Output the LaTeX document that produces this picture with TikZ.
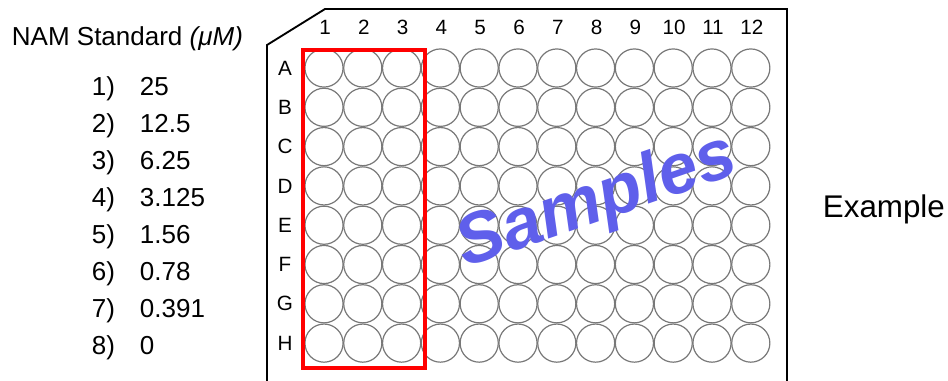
\documentclass[tikz,border=0pt]{standalone}
\usepackage{fontspec}
\setmainfont{Liberation Sans}

\tikzset{every picture/.style={line width=0.75pt}}

\begin{document}
\begin{tikzpicture}[x=0.75pt,y=0.75pt,yscale=-1,xscale=1,
  well/.style={circle,draw={rgb, 255:red, 120; green, 120; blue, 120 },line width=0.9,inner sep=0pt,minimum size=28.6pt},
  platelabel/.style={font=\fontsize{15.5}{18}\selectfont},
  listtext/.style={anchor=base west,font=\fontsize{19.5}{22}\selectfont}]
\useasboundingbox (0,0) rectangle (948,380);

%Plate outline
\draw [line width=1.4]  (267,381) -- (267,45) -- (325,9) -- (787,9) -- (787,381) ;

%Column numbers
\foreach \c in {1,...,12}
  \node [platelabel,anchor=base] (col\c) at ({325+(\c-1)*38.8},34) {\c};

%Row letters and wells
\foreach \r [count=\j] in {A,B,C,D,E,F,G,H} {
  \node [platelabel] (row\r) at (285,{68+(\j-1)*39.3}) {\r};
  \foreach \c in {1,...,12}
    \node [well] (w\r\c) at ({324+(\c-1)*38.8},{68+(\j-1)*39.3}) {};
}

%Standards box
\draw [color={rgb, 255:red, 255; green, 0; blue, 0 }, line width=3]  (303,50) rectangle (425,368) ;

% Text Node
\node [listtext] (title) at (7,45) {NAM Standard \textit{(μM)}};
% Text Node
\foreach \v [count=\i] in {25,12.5,6.25,3.125,1.56,0.78,0.391,0} {
  \node [listtext] (num\i) at (87,{95+(\i-1)*37.1}) {\i)};
  \node [listtext] (val\i) at (135,{95+(\i-1)*37.1}) {\v};
}
% Text Node
\node [rotate=19,text={rgb, 255:red, 95; green, 95; blue, 235 },font=\fontsize{53}{60}\selectfont\bfseries\itshape] (samples) at (597,203) {Samples};
% Text Node
\node [anchor=base west,font=\fontsize{23.5}{27}\selectfont] (example) at (818,217) {Example};

\end{tikzpicture}
\end{document}
